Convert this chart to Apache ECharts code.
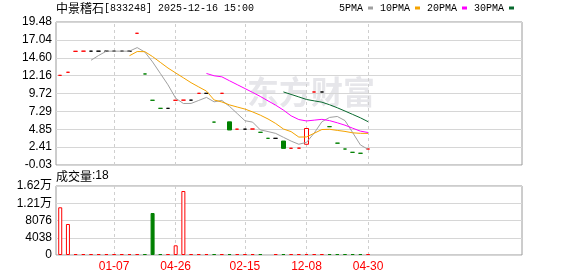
<!DOCTYPE html>
<html><head><meta charset="utf-8">
<script src="https://cdn.jsdelivr.net/npm/echarts@6/dist/echarts.min.js"></script>
<style>html,body{margin:0;padding:0;background:#fff}#c{width:578px;height:276px}</style>
</head><body><div id="c"></div>
<script>
// ---- data ----
const priceTicks = ['-0.03','2.41','4.85','7.29','9.72','12.16','14.60','17.04','19.48'];
const priceMin = -0.03, priceMax = 19.48;
const volTicks = ['0','4038','8076','1.21万','1.62万'];
const volMax = 16152, volStep = 4038;
const tickIdx = [7, 15, 24, 32, 40];
const tickLabels = ['01-07', '04-26', '02-15', '12-08', '04-30'];

const opens = [12.20,12.62,15.48,15.50,15.50,15.50,15.50,15.50,15.50,15.50,
  17.94,12.39,8.80,7.70,7.70,8.80,8.82,8.82,9.75,9.75,
  5.82,9.75,5.86,4.86,4.86,4.88,4.43,3.61,3.61,3.24,
  2.25,2.27,2.80,9.93,9.93,5.20,2.95,2.15,1.70,1.57,
  2.15];
const closes = [12.20,12.62,15.48,15.50,15.50,15.50,15.50,15.50,15.50,15.50,
  17.94,12.39,8.80,7.70,7.70,8.80,8.82,8.82,9.75,9.75,
  5.82,9.75,4.75,4.86,4.86,4.88,4.43,3.61,3.61,2.24,
  2.25,2.27,4.95,9.93,9.93,5.20,2.95,2.15,1.70,1.57,
  2.15];
const lows = [12.20,12.62,15.48,15.50,15.50,15.50,15.50,15.50,15.50,15.50,
  17.94,12.39,8.80,7.70,7.70,8.80,8.82,8.82,9.75,9.75,
  5.82,9.75,4.75,4.86,4.86,4.88,4.43,3.61,3.61,2.24,
  2.25,2.27,2.80,9.93,9.93,5.20,2.95,2.15,1.70,1.57,
  2.15];
const highs = [12.20,12.62,15.48,15.50,15.50,15.50,15.50,15.50,15.50,15.50,
  17.94,12.39,8.80,7.70,7.70,8.80,8.82,8.82,9.75,9.75,
  5.82,9.75,5.86,4.86,4.86,4.88,4.43,3.61,3.61,3.24,
  2.25,2.27,4.95,9.93,9.93,5.20,2.95,2.15,1.70,1.57,
  2.15];
const volumes = [11170,7260,40,30,20,20,20,20,20,20,
  50,60,9830,80,40,2270,14980,30,40,30,
  50,40,60,30,20,30,40,0,20,60,
  40,30,80,30,20,40,50,30,40,30,
  18];
const ma5 = [null,null,null,null,14.26,14.92,15.50,15.50,15.50,15.50,
  15.99,15.37,14.03,12.47,10.91,9.08,8.36,8.37,8.78,9.19,
  8.59,8.78,7.96,6.99,6.01,5.82,4.76,4.53,4.28,3.75,
  3.23,2.80,3.06,4.33,5.87,6.46,6.59,6.03,4.39,2.71,
  2.10];
const ma10 = [null,null,null,null,null,null,null,null,null,14.88,
  15.45,15.43,14.76,13.98,13.20,12.53,11.87,11.20,10.62,10.05,
  8.84,8.57,8.17,7.88,7.60,7.21,6.77,6.25,5.63,4.88,
  4.52,3.78,3.80,4.30,4.81,4.84,4.69,4.55,4.36,4.29,
  4.28];
const ma20 = [null,null,null,null,null,null,null,null,null,null,
  null,null,null,null,null,null,null,null,null,12.46,
  12.14,12.00,11.46,10.93,10.40,9.87,9.32,8.72,8.13,7.46,
  6.68,6.17,5.98,6.09,6.20,6.02,5.73,5.40,4.99,4.59,
  4.40];
const ma30 = [null,null,null,null,null,null,null,null,null,null,
  null,null,null,null,null,null,null,null,null,null,
  null,null,null,null,null,null,null,null,null,9.94,
  9.60,9.26,8.91,8.72,8.54,8.19,7.78,7.33,6.87,6.41,
  5.88];

// ---- styling ----
const UP = '#ff0000', DOWN = '#008000', FLAT = '#000000';
const GRIDC = '#d6d6d6', BORDER = '#9a9a9a';

const candleData = closes.map((c, i) => {
  const prev = i > 0 ? closes[i - 1] : null;
  const col = (prev === null || c > prev) ? UP : (c < prev ? DOWN : FLAT);
  const o = opens[i];
  const fill = c > o ? '#ffffff' : col;
  return {
    value: [i, o, c, lows[i], highs[i]],
    itemStyle: { color: fill, color0: fill, borderColor: col, borderColor0: col, borderColorDoji: col, borderWidth: 1 }
  };
});
const volData = [];
volumes.forEach((v, i) => {
  if (!v) return;
  const up = i === 0 || closes[i] >= closes[i - 1];
  volData.push({
    value: [i, v],
    itemStyle: up ? { color: '#ffffff', borderColor: UP, borderWidth: 1 } : { color: DOWN, borderColor: DOWN, borderWidth: 1 }
  });
});
const toPairs = arr => arr.map((v, i) => [i, v]).filter(p => p[1] !== null);

const dashLine = {
  symbol: 'none', silent: true, z: 1,
  label: { show: false },
  lineStyle: { color: '#cfcfcf', type: [3, 3], width: 1 },
  data: tickIdx.map(i => ({ xAxis: i }))
};

const xCommon = { type: 'value', min: -0.55, max: 60, axisLine: { show: false }, axisTick: { show: false }, splitLine: { show: false } };
const lblFont = { fontFamily: 'Liberation Sans, Noto Sans CJK SC', fontSize: 12, color: '#000' };

const maStyle = [
  ['5PMA', ma5, '#a0a0a0'],
  ['10PMA', ma10, '#f4a300'],
  ['20PMA', ma20, '#ff00ff'],
  ['30PMA', ma30, '#08692e']
];

const option = {
  animation: false,
  backgroundColor: '#fff',
  title: [
    { left: 56, top: 2, padding: 0,
      text: '{a|中景稽石}{b|[833248] 2025-12-16 15:00}',
      textStyle: { fontWeight: 'normal', rich: {
        a: { fontFamily: 'Noto Sans CJK SC', fontSize: 12, fontWeight: 'normal', color: '#000' },
        b: { fontFamily: 'Liberation Mono', fontSize: 10, fontWeight: 'normal', color: '#000' } } } },
    { left: 56, top: 170, padding: 0,
      text: '{a|成交量}{b|:' + volumes[volumes.length - 1] + '}',
      textStyle: { fontWeight: 'normal', rich: {
        a: { fontFamily: 'Noto Sans CJK SC', fontSize: 12, fontWeight: 'normal', color: '#000' },
        b: { fontFamily: 'Liberation Sans', fontSize: 12, fontWeight: 'normal', color: '#000' } } } }
  ],
  legend: {
    left: 339, top: 3, padding: 0, align: 'right', icon: 'rect',
    itemWidth: 5, itemHeight: 3, itemGap: 7,
    textStyle: { fontFamily: 'Liberation Mono', fontSize: 10, color: '#000' },
    data: maStyle.map(m => m[0])
  },
  graphic: [{
    type: 'text', left: 247, top: 76, z: 0, silent: true,
    style: { text: '东方财富', fill: '#e6e6ea', font: 'bold 32px "Noto Sans CJK SC"' }
  }],
  grid: [
    { left: 56, top: 22, width: 466, height: 143, show: true, borderColor: BORDER, borderWidth: 1, backgroundColor: 'transparent' },
    { left: 56, top: 186, width: 466, height: 69, show: true, borderColor: BORDER, borderWidth: 1, backgroundColor: 'transparent' }
  ],
  xAxis: [
    Object.assign({ gridIndex: 0, axisLabel: { show: false } }, xCommon),
    Object.assign({ gridIndex: 1, axisLabel: {
      customValues: tickIdx, margin: 6, color: '#ff0000', fontFamily: 'Liberation Sans', fontSize: 12,
      formatter: v => tickLabels[tickIdx.indexOf(Math.round(v))] || '' } }, xCommon)
  ],
  yAxis: [
    { type: 'value', gridIndex: 0, min: priceMin, max: priceMax, show: false },
    { type: 'value', gridIndex: 0, min: 0, max: priceTicks.length - 1, interval: 1, position: 'left',
      axisLine: { show: false }, axisTick: { show: false },
      axisLabel: Object.assign({ margin: 4, formatter: v => priceTicks[Math.round(v)] }, lblFont),
      splitLine: { lineStyle: { color: GRIDC, width: 1 } } },
    { type: 'value', gridIndex: 1, min: 0, max: volMax, interval: volStep, position: 'left',
      axisLine: { show: false }, axisTick: { show: false },
      axisLabel: Object.assign({ margin: 4, formatter: v => volTicks[Math.round(v / volStep)] }, lblFont),
      splitLine: { lineStyle: { color: GRIDC, width: 1 } } }
  ],
  series: [
    { type: 'candlestick', name: 'K', xAxisIndex: 0, yAxisIndex: 0, barWidth: 4,
      encode: { x: 0, y: [1, 2, 3, 4] }, data: candleData, markLine: dashLine, z: 3 },
    ...maStyle.map(m => ({
      type: 'line', name: m[0], xAxisIndex: 0, yAxisIndex: 0, data: toPairs(m[1]),
      showSymbol: false, symbol: 'none', color: m[2], lineStyle: { width: 1, color: m[2] }, z: 4
    })),
    { type: 'bar', name: 'VOL', xAxisIndex: 1, yAxisIndex: 2, barWidth: 4, barMinHeight: 1,
      data: volData, markLine: dashLine, z: 3 }
  ]
};
const chart = echarts.init(document.getElementById('c'), null, { renderer: 'canvas' });
chart.setOption(option);
</script></body></html>
